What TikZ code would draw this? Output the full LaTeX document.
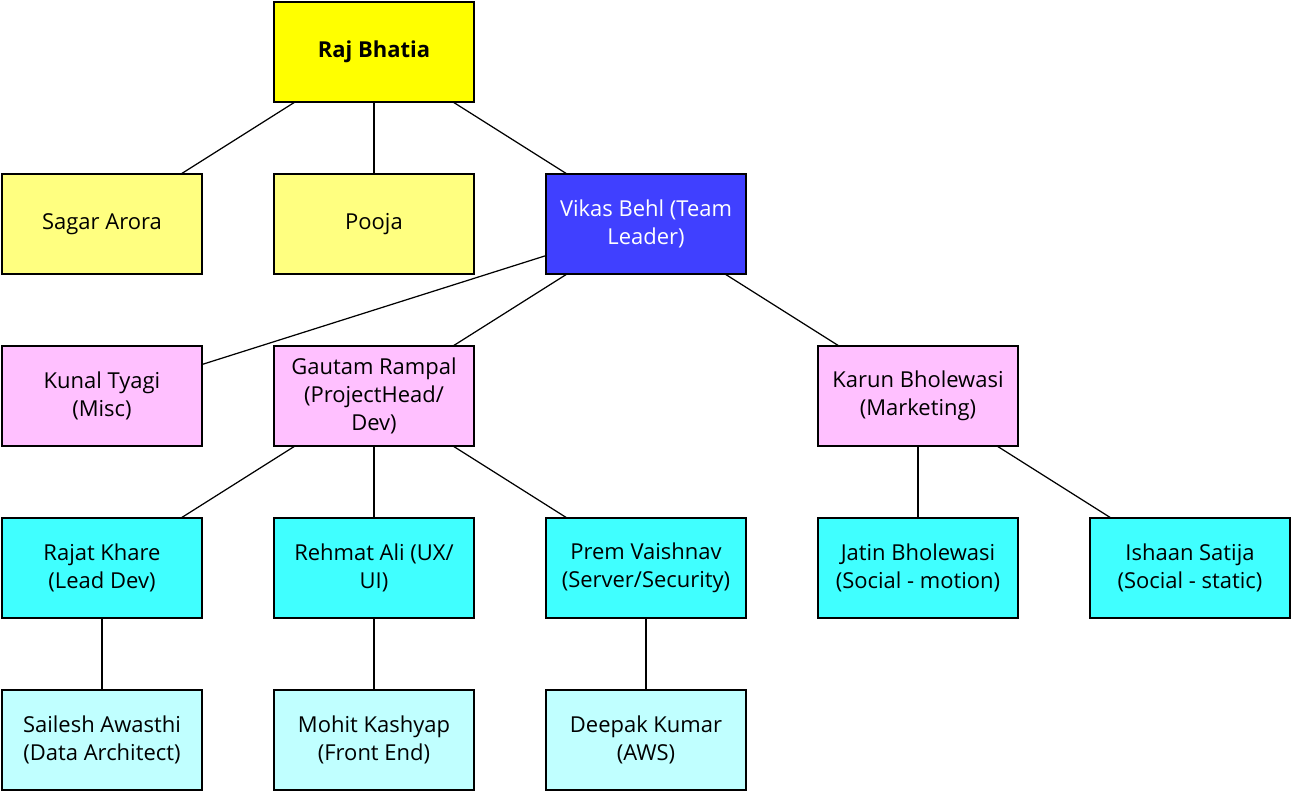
\documentclass[tikz,border=0pt]{standalone}
\usepackage{fontspec}
\setmainfont{Open Sans}
\usepackage{tikz}
\usetikzlibrary{positioning}
\definecolor{topyel}{HTML}{FFFF00}
\definecolor{paleyel}{HTML}{FFFF80}
\definecolor{leadblue}{HTML}{4040FF}
\definecolor{headpink}{HTML}{FFC0FF}
\definecolor{devcyan}{HTML}{40FFFF}
\definecolor{palecyan}{HTML}{C0FFFF}

\begin{document}
\begin{tikzpicture}[box/.style={rectangle, draw, line width=0.6pt, minimum width=4cm,
            minimum height=2cm, inner sep=2pt, outer sep=0pt, align=center,
            font=\fontsize{12.5}{16}\selectfont},
            node distance=1.44cm and 1.44cm, line width=0.7pt]
          \useasboundingbox (-7.48,1.04) rectangle (18.36,-14.8);

          \node[box,fill=topyel,font=\fontsize{12.5}{16}\selectfont\bfseries] (raj) at (0,0) {Raj Bhatia};
          \node[box,fill=paleyel,below=of raj] (pooja) {Pooja};
          \node[box,fill=paleyel,left=of pooja] (sagar) {Sagar Arora};
          \node[box,fill=leadblue,text=white,right=of pooja] (vikas) {Vikas Behl (Team\\Leader)};

          \node[box,fill=headpink,below=of pooja] (gautam) {Gautam Rampal\\(ProjectHead/\\Dev)};
          \node[box,fill=headpink,left=of gautam] (kunal) {Kunal Tyagi\\(Misc)};
          \node[box,fill=headpink,right=6.88cm of gautam] (karun) {Karun Bholewasi\\(Marketing)};

          \node[box,fill=devcyan,below=of gautam] (rehmat) {Rehmat Ali (UX/\\UI)};
          \node[box,fill=devcyan,left=of rehmat] (rajat) {Rajat Khare\\(Lead Dev)};
          \node[box,fill=devcyan,right=of rehmat] (prem) {Prem Vaishnav\\(Server/Security)};
          \node[box,fill=devcyan,below=of karun] (jatin) {Jatin Bholewasi\\(Social - motion)};
          \node[box,fill=devcyan,right=of jatin] (ishaan) {Ishaan Satija\\(Social - static)};

          \node[box,fill=palecyan,below=of rajat] (sailesh) {Sailesh Awasthi\\(Data Architect)};
          \node[box,fill=palecyan,below=of rehmat] (mohit) {Mohit Kashyap\\(Front End)};
          \node[box,fill=palecyan,below=of prem] (deepak) {Deepak Kumar\\(AWS)};

          % reporting lines
          \foreach \a/\b in {raj/sagar, raj/pooja, raj/vikas,
                vikas/kunal, vikas/gautam, vikas/karun,
                gautam/rajat, gautam/rehmat, gautam/prem,
                karun/jatin, karun/ishaan,
                rajat/sailesh, rehmat/mohit, prem/deepak}
            \draw (\a) -- (\b);
        \end{tikzpicture}
\end{document}
